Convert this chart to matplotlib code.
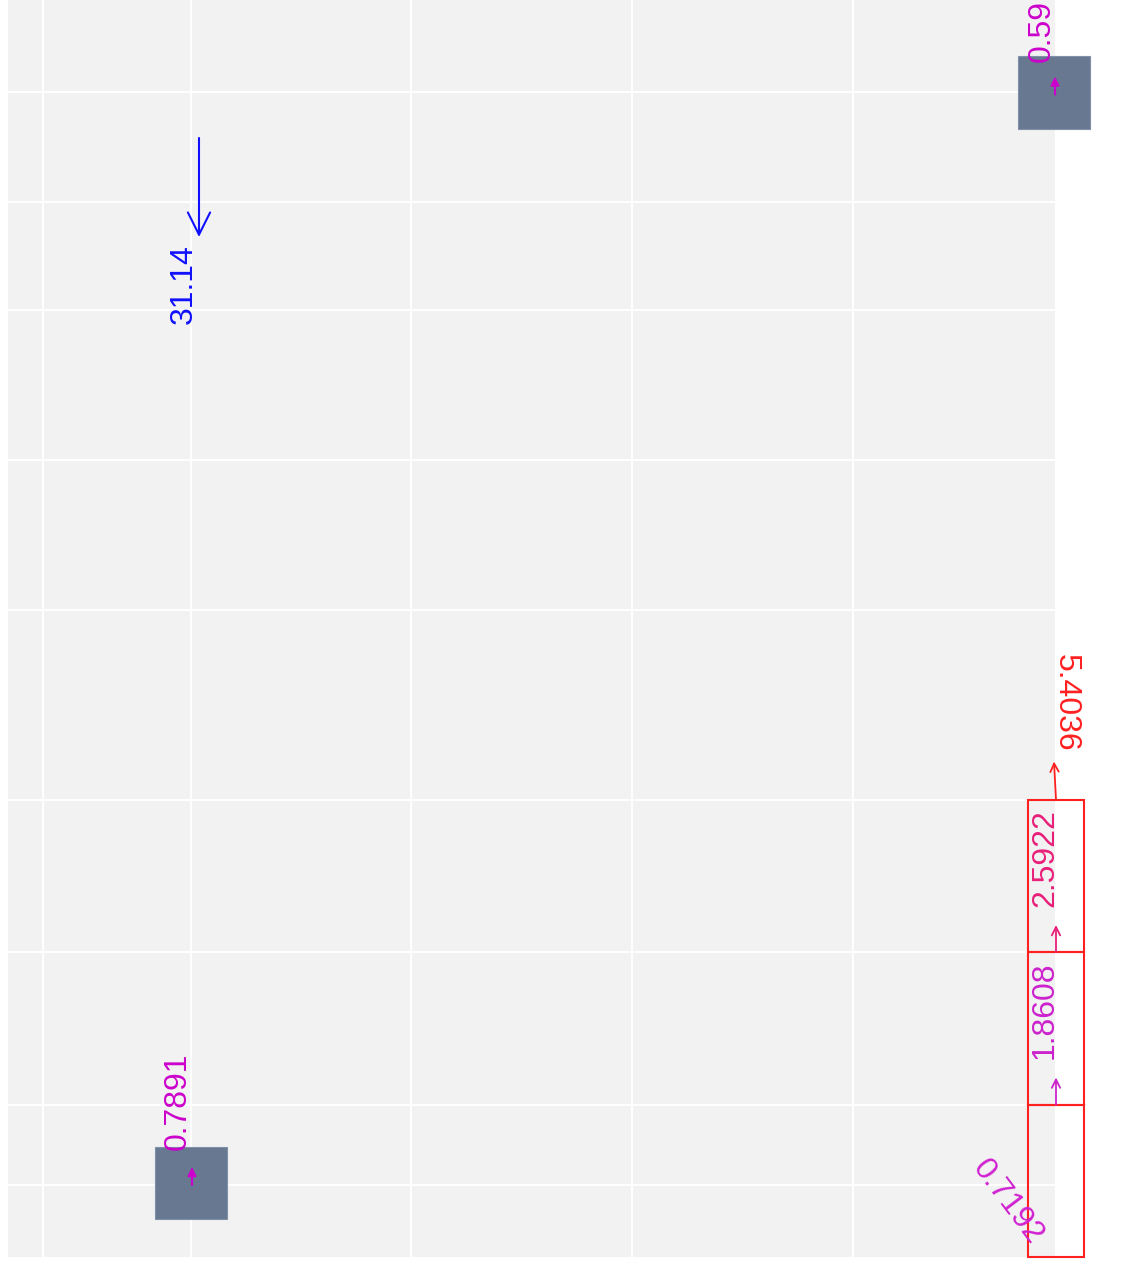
import matplotlib.pyplot as plt
from matplotlib.patches import Rectangle, FancyArrowPatch

# Values shown on the chart
step_values = [0.7192, 1.8608, 2.5922]   # stacked red boxes, bottom to top
step_colors = ['#d020d0', '#cc22cc', '#e8207a']
total_value = 5.4036
square_values = [0.7891, 0.59]
drop_value = 31.14

# Layout (data units, 1 unit = 100 px)
grid_x = [0.35, 1.83, 4.03, 6.24, 8.45]
grid_y = [0.72, 1.52, 3.05, 4.57, 6.47, 7.97, 9.47, 10.55, 11.65]
box_x, box_w, box_h = 10.20, 0.56, 1.525
col_x = 10.48
square_pos = [(1.83, 0.74), (10.46, 11.645)]
square_size = 0.72

plt.rcParams['font.family'] = ['Liberation Sans', 'DejaVu Sans']

fig = plt.figure(figsize=(11.4, 12.61), dpi=100)
ax = fig.add_axes([8 / 1140, 4 / 1261, 1047 / 1140, 1257 / 1261])
ax.set_xlim(0, 10.47)
ax.set_ylim(0, 12.57)
ax.set_facecolor('#f2f2f2')
for s in ax.spines.values():
    s.set_visible(False)
ax.set_xticks(grid_x)
ax.set_yticks(grid_y)
ax.tick_params(length=0, labelbottom=False, labelleft=False)
ax.grid(color='white', lw=1.4)
ax.set_axisbelow(True)


def arrow(x0, y0, x1, y1, color, style, scale, lw):
    a = FancyArrowPatch((x0, y0), (x1, y1), arrowstyle=style, color=color,
                        mutation_scale=scale, lw=lw, clip_on=False,
                        shrinkA=0, shrinkB=0, zorder=5)
    ax.add_patch(a)


# Stacked boxes with their labels and small arrows
for i, (v, c) in enumerate(zip(step_values, step_colors)):
    y0 = i * box_h
    ax.add_patch(Rectangle((box_x, y0), box_w, box_h, fill=False,
                           edgecolor='#ff2020', lw=1.5, clip_on=False, zorder=3))
    if i == 0:
        ax.text(10.00, 0.55, f'{v:.4f}', color=c, fontsize=23, rotation=-53,
                rotation_mode='anchor', ha='center', va='center', clip_on=False)
    else:
        arrow(col_x, y0, col_x, y0 + 0.27, c, '->,head_length=0.5,head_width=0.25', 12, 1.3)
        ax.text(10.37, y0 + 0.94, f'{v:.4f}', color=c, fontsize=23, rotation=90,
                rotation_mode='anchor', ha='center', va='center', clip_on=False)

# Total arrow on top of the stack
top = len(step_values) * box_h
arrow(col_x, top, col_x - 0.02, top + 0.38, '#ff2020', '->,head_length=0.5,head_width=0.25', 12, 1.3)
ax.text(10.58, 5.54, f'{total_value:.4f}', color='#ff2020', fontsize=23, rotation=-90,
        rotation_mode='anchor', ha='center', va='center', clip_on=False)

# Squares with small arrows and labels
for (cx, cy), v in zip(square_pos, square_values):
    ax.add_patch(Rectangle((cx - square_size / 2, cy - square_size / 2), square_size, square_size,
                           facecolor='#687891', edgecolor='#8090a8', lw=0.8, clip_on=False, zorder=3))
    arrow(cx + 0.01, cy - 0.02, cx + 0.01, cy + 0.16, '#cc00cc', '-|>,head_length=0.5,head_width=0.25', 10, 1.5)
ax.text(1.70, 1.56, f'{square_values[0]:.4f}', color='#cc00cc', fontsize=23, rotation=90,
        rotation_mode='anchor', ha='center', va='center', zorder=4)
ax.text(10.34, 11.95, f'{square_values[1]:.2f}', color='#cc00cc', fontsize=23, rotation=90,
        rotation_mode='anchor', ha='left', va='center', clip_on=False, zorder=4)

# Blue arrow pointing down
arrow(1.91, 11.19, 1.91, 10.20, '#1010ff', '->,head_length=0.8,head_width=0.4', 20, 1.5)
ax.text(1.76, 9.73, f'{drop_value:.2f}', color='#1010ff', fontsize=23, rotation=90,
        rotation_mode='anchor', ha='center', va='center')

fig.savefig('out.png', dpi=100)
